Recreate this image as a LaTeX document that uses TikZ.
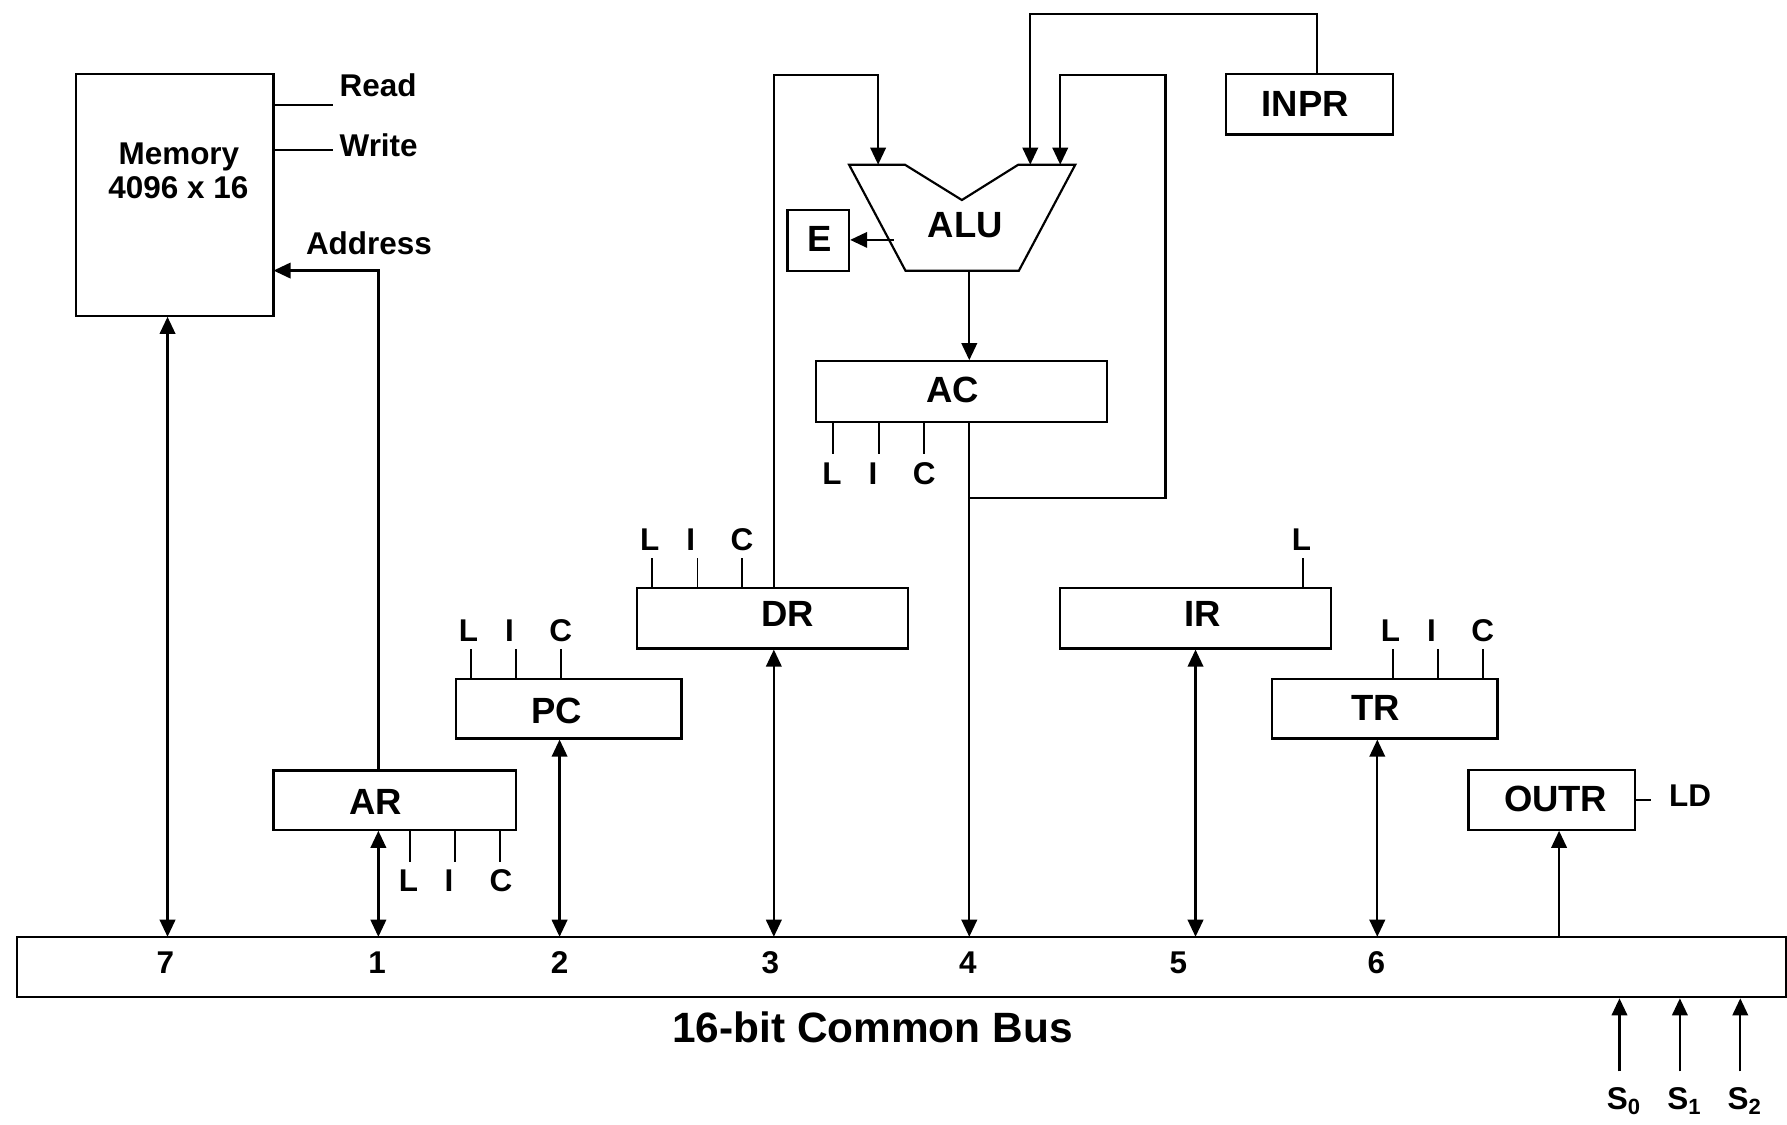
\documentclass[tikz,border=0pt]{standalone}
\usepackage{fontspec}
\setmainfont{Liberation Sans}
\usetikzlibrary{arrows.meta,fit}
\begin{document}
\begin{tikzpicture}[x=0.5pt,y=-0.5pt, line width=1pt,
  box/.style={draw, inner sep=0pt, line width=0.95pt},
  tip/.style={-{Triangle[length=7.5pt,width=6.8pt]}},
  dtip/.style={{Triangle[length=7.5pt,width=6.8pt]}-{Triangle[length=7.5pt,width=6.8pt]}},
  sm/.style={font=\fontsize{13.8}{16}\selectfont\bfseries, inner sep=0pt, anchor=base},
  reg/.style={font=\fontsize{16}{19}\selectfont\bfseries, inner sep=0pt, anchor=base},
  big/.style={font=\fontsize{18.6}{22}\selectfont\bfseries, inner sep=0pt, anchor=base}]
\useasboundingbox (0,0) rectangle (1568,987);

% ---------- boxes ----------
\node[box, fit={(67,65)(240,277)}] (mem) {};
\node[box, fit={(15,822)(1567,875)}] (bus) {};
\node[box, fit={(240,676)(453,728)}] (ar) {};
\node[box, fit={(400,596)(598,648)}] (pc) {};
\node[box, fit={(559,516)(797,569)}] (dr) {};
\node[box, fit={(930,516)(1168,569)}] (ir) {};
\node[box, fit={(1116,596)(1314,648)}] (tr) {};
\node[box, fit={(1288.5,675.5)(1434.5,728)}] (outr) {};
\node[box, fit={(716,317)(971,370)}] (ac) {};
\node[box, fit={(1076,65)(1222,118)}] (inpr) {};
\node[box, fit={(691,184)(745,238)}] (e) {};

% ALU shape
\draw[line width=0.95pt] (745,144.5) -- (794,144.5) -- (844,175.5) -- (893.5,144.5) -- (943.5,144.5)
      -- (894,237.5) -- (794.5,237.5) -- cycle;

% ---------- texts ----------
\node[sm] (memt1) at (157,144) {Memory};
\node[sm] (memt2) at (156.5,174) {4096 x 16};
\node[sm, anchor=base west] (readt) at (297,85) {Read};
\node[sm, anchor=base west] (writet) at (297,137.4) {Write};
\node[sm, anchor=base west] (addrt) at (267.5,223.7) {Address};
\node[reg] (alut) at (847,208.2) {ALU};
\node[reg] (et) at (719.5,220.8) {E};
\node[reg] (act) at (836,353.3) {AC};
\node[reg] (inprt) at (1145.4,101.8) {INPR};
\node[reg] (art) at (329.8,714.9) {AR};
\node[reg] (pct) at (488.4,635) {PC};
\node[reg] (drt) at (691,550) {DR};
\node[reg] (irt) at (1055,550) {IR};
\node[reg] (trt) at (1207,632) {TR};
\node[reg] (outrt) at (1365,712) {OUTR};
\node[sm] (ldt) at (1483,708) {LD};
\node[big] (bust) at (765.5,914.6) {16-bit Common Bus};

% bus numbers
\node[sm] (n7) at (145,853.8) {7};
\node[sm] (n1) at (330.8,853.8) {1};
\node[sm] (n2) at (491,853.8) {2};
\node[sm] (n3) at (676,853.8) {3};
\node[sm] (n4) at (849.3,853.8) {4};
\node[sm] (n5) at (1034,853.8) {5};
\node[sm] (n6) at (1207.6,853.8) {6};

% control labels
\node[sm] (arL) at (358.5,782) {L};
\node[sm] (arI) at (394,782) {I};
\node[sm] (arC) at (439.5,782) {C};
\node[sm] (pcL) at (411,563) {L};
\node[sm] (pcI) at (447,563) {I};
\node[sm] (pcC) at (492,563) {C};
\node[sm] (drL) at (570,483) {L};
\node[sm] (drI) at (606,483) {I};
\node[sm] (drC) at (651,483) {C};
\node[sm] (acL) at (730,425) {L};
\node[sm] (acI) at (766,425) {I};
\node[sm] (acC) at (811,425) {C};
\node[sm] (irL) at (1142,483) {L};
\node[sm] (trL) at (1220,563) {L};
\node[sm] (trI) at (1256,563) {I};
\node[sm] (trC) at (1301,563) {C};
\node[sm] (s0t) at (1425,973.6) {S\textsubscript{0}};
\node[sm] (s1t) at (1478,973.6) {S\textsubscript{1}};
\node[sm] (s2t) at (1531,973.6) {S\textsubscript{2}};

% ---------- coordinates ----------
\coordinate (b7) at (147,822);
\coordinate (b1) at (332,822);
\coordinate (b2) at (491,822);
\coordinate (b3) at (679,822);
\coordinate (b4) at (850.5,822);
\coordinate (b5) at (1049,822);
\coordinate (b6) at (1208.5,822);
\coordinate (bo) at (1368,822);
\coordinate (addrin) at (240,237.4);
\coordinate (top0) at (0,12);
\coordinate (top1) at (0,65.5);
\coordinate (aluin1) at (770.5,144.5);
\coordinate (aluin2) at (904,144.5);
\coordinate (aluin3) at (930.3,144.5);
\coordinate (aluout) at (850.5,237.5);
\coordinate (carry) at (784,210.5);
\coordinate (inx) at (1155.6,0);
\coordinate (fb) at (1022.6,437);
\coordinate (s0) at (1421,940);
\coordinate (s1) at (1474,940);
\coordinate (s2) at (1527,940);
\coordinate (rdend) at (292,92);
\coordinate (wrend) at (292,131.6);

% ---------- connectors ----------
\draw (mem.east |- rdend) -- (rdend);
\draw (mem.east |- wrend) -- (wrend);
\draw[tip] (ar.north -| b1) |- (addrin);

\draw[dtip] (b7) -- (mem.south -| b7);
\draw[dtip] (b1) -- (ar.south -| b1);
\draw[dtip] (b2) -- (pc.south -| b2);
\draw[dtip] (b3) -- (dr.south -| b3);
\draw[tip] (ac.south -| b4) -- (b4);
\draw[dtip] (b5) -- (ir.south -| b5);
\draw[dtip] (b6) -- (tr.south -| b6);
\draw[tip] (bo) -- (outr.south -| bo);

\draw[tip] (dr.north -| b3) -- (b3 |- top1) -| (aluin1);
\draw[tip] (inpr.north -| inx) -- (inx |- top0) -| (aluin2);
\draw[tip] (b4 |- fb) -- (fb) |- (top1 -| aluin3) -- (aluin3);
\draw[tip] (aluout) -- (ac.north -| aluout);
\draw[tip] (carry) -- (e.east |- carry);

\draw (outr.east) -- ++(13.4,0);

\draw[tip] (s0) -- (bus.south -| s0);
\draw[tip] (s1) -- (bus.south -| s1);
\draw[tip] (s2) -- (bus.south -| s2);

% control ticks
\foreach \x in {360,399,439} \draw[line width=0.8pt] (ar.south -| \x,0) -- ++(0,27);
\foreach \x in {413,453,492} \draw[line width=0.8pt] (pc.north -| \x,0) -- ++(0,-26);
\foreach \x in {572,612,651} \draw[line width=0.8pt] (dr.north -| \x,0) -- ++(0,-25.5);
\foreach \x in {731,771,811} \draw[line width=0.8pt] (ac.south -| \x,0) -- ++(0,27);
\draw[line width=0.8pt] (ir.north -| 1143,0) -- ++(0,-25.5);
\foreach \x in {1222,1262,1301} \draw[line width=0.8pt] (tr.north -| \x,0) -- ++(0,-26);
\end{tikzpicture}
\end{document}
